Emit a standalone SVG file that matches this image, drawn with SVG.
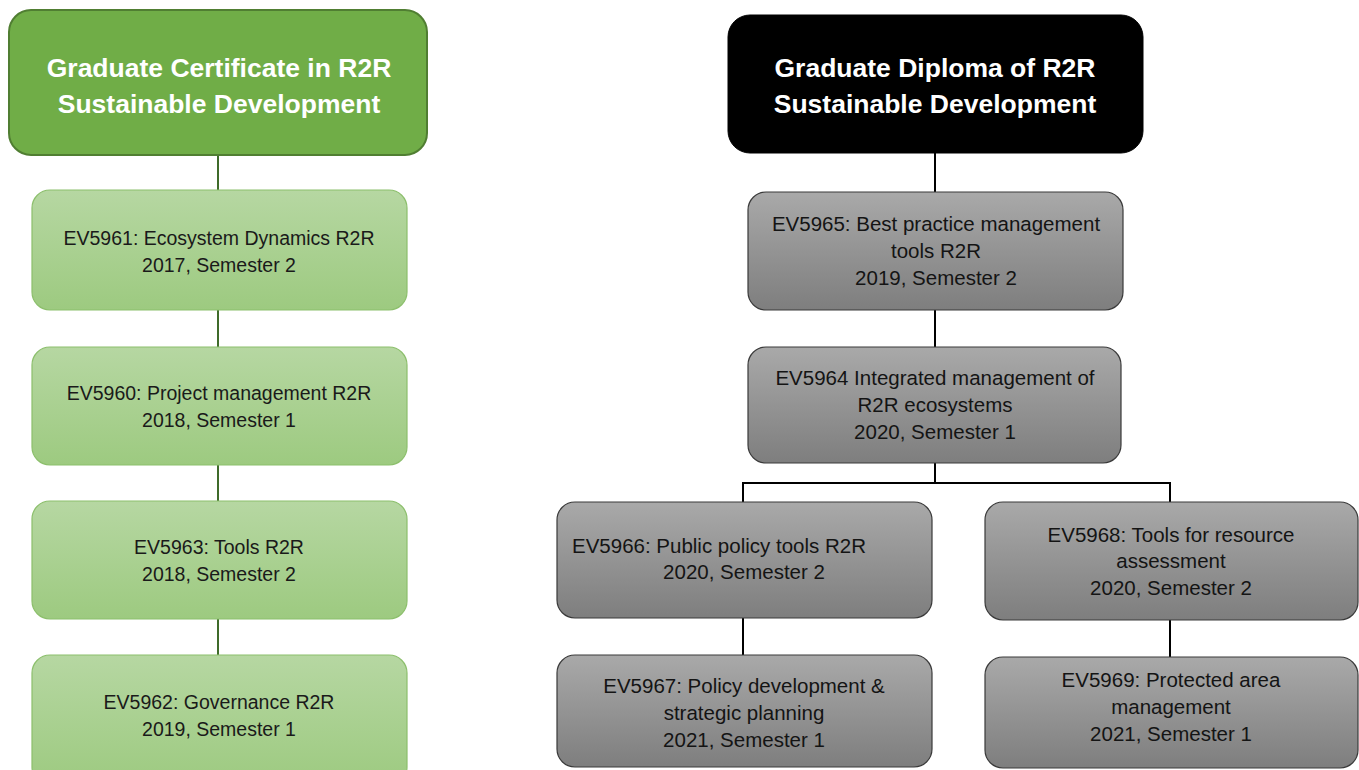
<svg xmlns="http://www.w3.org/2000/svg" width="1359" height="770" viewBox="0 0 1359 770">
  <defs>
    <linearGradient id="gGreen" x1="0" y1="0" x2="0" y2="1">
      <stop offset="0" stop-color="#b6d7a2"/>
      <stop offset="1" stop-color="#9dca80"/>
    </linearGradient>
    <linearGradient id="gGray" x1="0" y1="0" x2="0" y2="1">
      <stop offset="0" stop-color="#a9a9a9"/>
      <stop offset="1" stop-color="#7e7e7e"/>
    </linearGradient>
    <style>
      .hdrG { fill: #70ad47; stroke: #507e32; stroke-width: 2; }
      .hdrB { fill: #000000; stroke: #000000; stroke-width: 1; }
      .boxG { fill: url(#gGreen); stroke: #8cbf6c; stroke-width: 1.2; }
      .boxK { fill: url(#gGray); stroke: #3a3a3a; stroke-width: 1.2; }
      .ht { font-family: "Liberation Sans", Arial, sans-serif; font-weight: bold; font-size: 26.5px; fill: #ffffff; text-anchor: middle; }
      .bt { font-family: "Liberation Sans", Arial, sans-serif; font-size: 19.5px; fill: #1a1a1a; text-anchor: middle; }
      .bk { font-family: "Liberation Sans", Arial, sans-serif; font-size: 20.5px; fill: #141414; text-anchor: middle; }
      .cg { stroke: #3f6b2a; stroke-width: 2; fill: none; }
      .ck { stroke: #000000; stroke-width: 2; fill: none; }
    </style>
  </defs>
  <rect width="1359" height="770" fill="#ffffff"/>

  <g id="connectors">
    <line class="cg" x1="218" y1="155" x2="218" y2="190"/>
    <line class="cg" x1="218" y1="310" x2="218" y2="347"/>
    <line class="cg" x1="218" y1="465" x2="218" y2="501"/>
    <line class="cg" x1="218" y1="619" x2="218" y2="655"/>
    <line class="ck" x1="935" y1="153" x2="935" y2="192"/>
    <line class="ck" x1="935" y1="310" x2="935" y2="347"/>
    <polyline class="ck" points="935,463 935,483"/>
    <polyline class="ck" points="743,502 743,483 1170,483 1170,502"/>
    <line class="ck" x1="743" y1="618" x2="743" y2="655"/>
    <line class="ck" x1="1170" y1="620" x2="1170" y2="657"/>
  </g>

  <g id="hdr-cert">
    <rect class="hdrG" x="9" y="10" width="418" height="145" rx="22"/>
    <text class="ht" x="219" y="77">Graduate Certificate in R2R</text>
    <text class="ht" x="219" y="113">Sustainable Development</text>
  </g>

  <g id="ev5961">
    <rect class="boxG" x="32" y="190" width="375" height="120" rx="18"/>
    <text class="bt" x="219" y="244.5">EV5961: Ecosystem Dynamics R2R</text>
    <text class="bt" x="219" y="271.5">2017, Semester 2</text>
  </g>
  <g id="ev5960">
    <rect class="boxG" x="32" y="347" width="375" height="118" rx="18"/>
    <text class="bt" x="219" y="400">EV5960: Project management R2R</text>
    <text class="bt" x="219" y="427">2018, Semester 1</text>
  </g>
  <g id="ev5963">
    <rect class="boxG" x="32" y="501" width="375" height="118" rx="18"/>
    <text class="bt" x="219" y="554">EV5963: Tools R2R</text>
    <text class="bt" x="219" y="581">2018, Semester 2</text>
  </g>
  <g id="ev5962">
    <rect class="boxG" x="32" y="655" width="375" height="130" rx="18"/>
    <text class="bt" x="219" y="709">EV5962: Governance R2R</text>
    <text class="bt" x="219" y="736">2019, Semester 1</text>
  </g>

  <g id="hdr-dip">
    <rect class="hdrB" x="728" y="15" width="415" height="138" rx="22"/>
    <text class="ht" x="935" y="77">Graduate Diploma of R2R</text>
    <text class="ht" x="935" y="113">Sustainable Development</text>
  </g>

  <g id="ev5965">
    <rect class="boxK" x="748" y="192" width="375" height="118" rx="18"/>
    <text class="bk" x="936" y="231">EV5965: Best practice management</text>
    <text class="bk" x="936" y="257.5">tools R2R</text>
    <text class="bk" x="936" y="284.5">2019, Semester 2</text>
  </g>
  <g id="ev5964">
    <rect class="boxK" x="748" y="347" width="373" height="116" rx="18"/>
    <text class="bk" x="935" y="385">EV5964 Integrated management of</text>
    <text class="bk" x="935" y="411.5">R2R ecosystems</text>
    <text class="bk" x="935" y="438.5">2020, Semester 1</text>
  </g>
  <g id="ev5966">
    <rect class="boxK" x="557" y="502" width="375" height="116" rx="18"/>
    <text class="bk" x="719" y="553">EV5966: Public policy tools R2R</text>
    <text class="bk" x="744" y="579">2020, Semester 2</text>
  </g>
  <g id="ev5967">
    <rect class="boxK" x="557" y="655" width="375" height="112" rx="18"/>
    <text class="bk" x="744" y="693">EV5967: Policy development &amp;</text>
    <text class="bk" x="744" y="720">strategic planning</text>
    <text class="bk" x="744" y="747">2021, Semester 1</text>
  </g>
  <g id="ev5968">
    <rect class="boxK" x="985" y="502" width="373" height="118" rx="18"/>
    <text class="bk" x="1171" y="542">EV5968: Tools for resource</text>
    <text class="bk" x="1171" y="568">assessment</text>
    <text class="bk" x="1171" y="595">2020, Semester 2</text>
  </g>
  <g id="ev5969">
    <rect class="boxK" x="985" y="657" width="373" height="111" rx="18"/>
    <text class="bk" x="1171" y="687">EV5969: Protected area</text>
    <text class="bk" x="1171" y="714">management</text>
    <text class="bk" x="1171" y="741">2021, Semester 1</text>
  </g>
</svg>
